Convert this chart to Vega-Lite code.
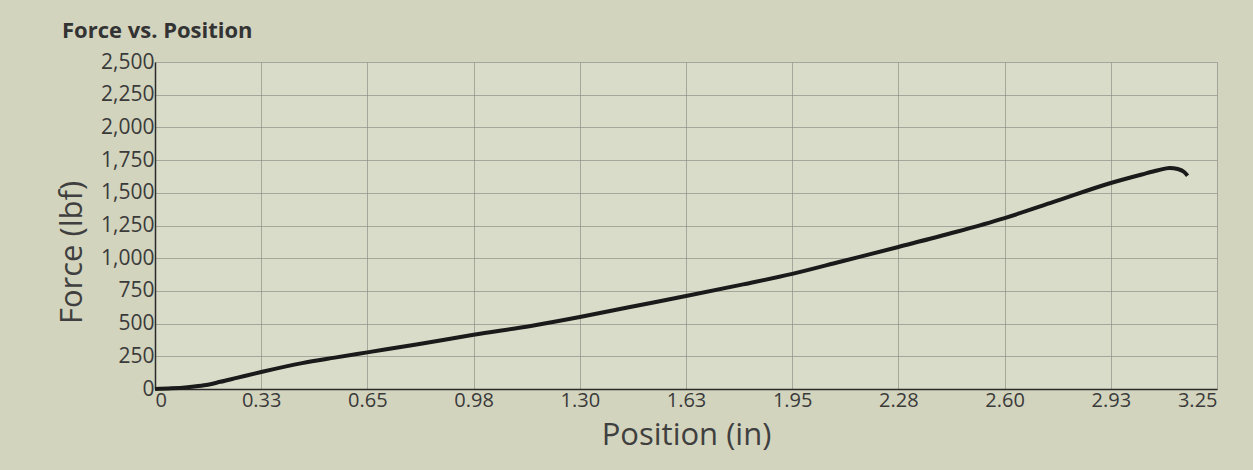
{
  "$schema": "https://vega.github.io/schema/vega-lite/v6.json",
  "autosize": "none",
  "width": 1062,
  "height": 327,
  "padding": {"left": 155, "top": 62, "right": 36, "bottom": 81},
  "background": "#d3d4be",
  "title": {
    "text": "Force vs. Position",
    "anchor": "start",
    "frame": "group",
    "dx": -93,
    "offset": 8,
    "font": "Open Sans",
    "fontSize": 22,
    "fontWeight": "bold",
    "color": "#333333"
  },
  "config": {
    "view": {"fill": "#d9dcc9", "stroke": null},
    "axis": {
      "labelFont": "Open Sans",
      "titleFont": "Open Sans",
      "labelColor": "#3a3a3a",
      "titleColor": "#3f3f3f",
      "titleFontWeight": "normal",
      "labelFontSize": 21,
      "titleFontSize": 31,
      "ticks": false,
      "gridColor": "#8e9088",
      "gridOpacity": 0.7,
      "gridWidth": 1,
      "domainColor": "#2a2a2a",
      "domainWidth": 1.5
    }
  },
  "data": {
    "values": [
      {"position": 0, "force": 0},
      {"position": 0.05, "force": 5},
      {"position": 0.1, "force": 14},
      {"position": 0.15, "force": 28},
      {"position": 0.2, "force": 55},
      {"position": 0.25, "force": 85},
      {"position": 0.325, "force": 130},
      {"position": 0.45, "force": 198},
      {"position": 0.55, "force": 240},
      {"position": 0.65, "force": 280},
      {"position": 0.8, "force": 340},
      {"position": 0.975, "force": 415},
      {"position": 1.15, "force": 482},
      {"position": 1.3, "force": 550},
      {"position": 1.45, "force": 625},
      {"position": 1.625, "force": 711},
      {"position": 1.8, "force": 800},
      {"position": 1.95, "force": 880},
      {"position": 2.1, "force": 975},
      {"position": 2.275, "force": 1086},
      {"position": 2.45, "force": 1200},
      {"position": 2.6, "force": 1307},
      {"position": 2.75, "force": 1430},
      {"position": 2.925, "force": 1575},
      {"position": 3.02, "force": 1640},
      {"position": 3.07, "force": 1672},
      {"position": 3.105, "force": 1690},
      {"position": 3.13, "force": 1682},
      {"position": 3.15, "force": 1658},
      {"position": 3.16, "force": 1630}
    ]
  },
  "mark": {"type": "line", "color": "#1a1a1a", "strokeWidth": 4, "interpolate": "monotone"},
  "encoding": {
    "x": {
      "field": "position",
      "type": "quantitative",
      "title": "Position (in)",
      "scale": {"domain": [0, 3.25], "nice": false, "zero": false},
      "axis": {
        "values": [0, 0.325, 0.65, 0.975, 1.3, 1.625, 1.95, 2.275, 2.6, 2.925, 3.25],
        "labelExpr": "datum.value == 0 ? '0' : format(datum.value + 0.0001, '.2f')",
        "labelPadding": 1,
        "labelFontSize": 20,
        "titlePadding": 10
      }
    },
    "y": {
      "field": "force",
      "type": "quantitative",
      "title": "Force (lbf)",
      "scale": {"domain": [0, 2500], "nice": false},
      "axis": {
        "values": [0, 250, 500, 750, 1000, 1250, 1500, 1750, 2000, 2250, 2500],
        "format": ",.0f",
        "labelPadding": 1,
        "titlePadding": 12,
        "titleY": 190
      }
    }
  }
}
